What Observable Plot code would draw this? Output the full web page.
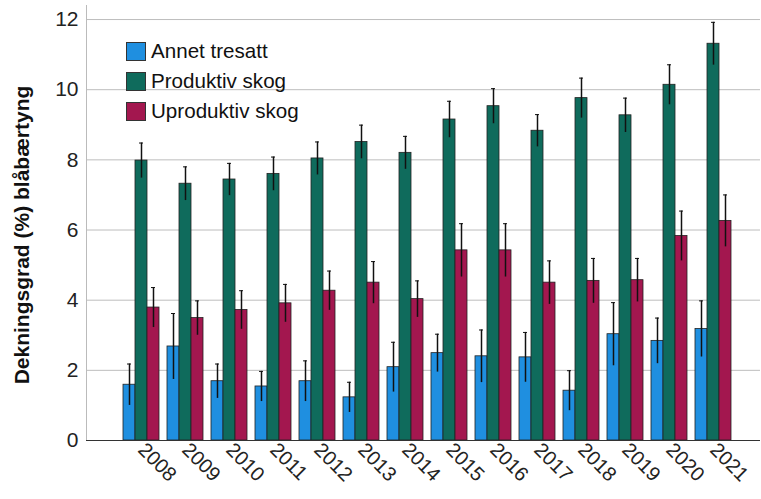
<!DOCTYPE html>
<html>
<head>
<meta charset="utf-8">
<script src="https://cdn.jsdelivr.net/npm/d3@7"></script>
<script src="https://cdn.jsdelivr.net/npm/@observablehq/plot@0.6"></script>
<style>
  html, body { margin: 0; padding: 0; background: #fff; }
  #wrap { position: relative; width: 761px; height: 499px; font-family: "Liberation Sans", Arial, sans-serif; }
  #legend { position: absolute; left: 126px; top: 36px; font-size: 20.6px; color: #111; }
  #legend .row { display: flex; align-items: center; height: 30px; }
  #legend .sw { width: 20px; height: 19px; border: 1px solid #333; box-sizing: border-box; margin-right: 5px; }
</style>
</head>
<body>
<div id="wrap"><div id="legend"></div></div>
<script>
const years = [2008, 2009, 2010, 2011, 2012, 2013, 2014, 2015, 2016, 2017, 2018, 2019, 2020, 2021];
const seriesNames = ["Annet tresatt", "Produktiv skog", "Uproduktiv skog"];
const seriesColors = ["#1f8fe0", "#0f6b5c", "#a3174f"];
const annet    = [1.59, 2.68, 1.69, 1.54, 1.69, 1.23, 2.09, 2.49, 2.40, 2.37, 1.42, 3.03, 2.84, 3.18];
const annetErr = [0.59, 0.94, 0.49, 0.43, 0.58, 0.43, 0.71, 0.54, 0.75, 0.71, 0.57, 0.90, 0.65, 0.80];
const prod     = [7.98, 7.32, 7.44, 7.60, 8.04, 8.51, 8.20, 9.15, 9.53, 8.83, 9.76, 9.27, 10.14, 11.31];
const prodErr  = [0.50, 0.48, 0.46, 0.48, 0.47, 0.48, 0.47, 0.52, 0.50, 0.46, 0.57, 0.49, 0.57, 0.61];
const uprod    = [3.79, 3.49, 3.72, 3.91, 4.27, 4.50, 4.03, 5.42, 5.42, 4.50, 4.55, 4.57, 5.83, 6.26];
const uprodErr = [0.57, 0.49, 0.55, 0.54, 0.56, 0.60, 0.52, 0.76, 0.76, 0.62, 0.64, 0.62, 0.71, 0.74];
const yTicks = [0, 2, 4, 6, 8, 10, 12];
const yLabel = "Dekningsgrad (%) blåbærtyng";

const valueSets = [annet, prod, uprod];
const errSets = [annetErr, prodErr, uprodErr];
const rows = [];
seriesNames.forEach((s, si) => years.forEach((yr, i) => rows.push({
  year: String(yr), series: s, si, value: valueSets[si][i], err: errSets[si][i]
})));

const bw = 36, sub = bw / 3;
const marks = [
  Plot.gridY(yTicks, {stroke: "#bdbdbd", strokeOpacity: 1}),
  Plot.frame({anchor: "left", stroke: "#bbbbbb"})
];
seriesNames.forEach((s, si) => {
  const d = rows.filter(r => r.si === si);
  marks.push(Plot.barY(d, {
    x: "year", y: "value", fill: seriesColors[si], stroke: "#222", strokeWidth: 0.8,
    insetLeft: si * sub, insetRight: (2 - si) * sub
  }));
  marks.push(Plot.ruleX(d, {
    x: "year", y1: d => d.value - d.err, y2: d => d.value + d.err,
    dx: (si - 1) * sub, stroke: "#111", strokeWidth: 1.5
  }));
  marks.push(Plot.tickY(d, {
    x: "year", y: d => d.value + d.err, stroke: "#111", strokeWidth: 1,
    insetLeft: si * sub + sub / 2 - 2, insetRight: (2 - si) * sub + sub / 2 - 2
  }));
});
marks.push(Plot.ruleY([0], {stroke: "#333", strokeWidth: 1}));
marks.push(Plot.axisY(yTicks, {tickSize: 0, tickPadding: 8, fontSize: 21, fill: "#222", label: null}));
marks.push(Plot.axisX({tickSize: 0, tickRotate: 45, fontSize: 20, fill: "#222", tickPadding: 6, label: null}));
marks.push(Plot.text([yLabel], {
  frameAnchor: "left", rotate: -90, dx: -64, dy: 12, textAnchor: "middle", lineAnchor: "middle",
  fontSize: 21, fontWeight: "bold", fill: "#111"
}));

const chart = Plot.plot({
  width: 761, height: 499,
  marginLeft: 86, marginRight: 1, marginTop: 5, marginBottom: 59,
  style: {fontFamily: "Liberation Sans, Arial, sans-serif", background: "#fff"},
  x: {domain: years.map(String), range: [121, 733], paddingInner: 0.187, paddingOuter: 0, axis: null},
  y: {domain: [0, 12.4], axis: null},
  marks
});
const wrap = document.getElementById("wrap");
wrap.insertBefore(chart, wrap.firstChild);

const legend = document.getElementById("legend");
seriesNames.forEach((s, si) => {
  const row = document.createElement("div");
  row.className = "row";
  const sw = document.createElement("div");
  sw.className = "sw";
  sw.style.background = seriesColors[si];
  const t = document.createElement("span");
  t.textContent = s;
  row.appendChild(sw); row.appendChild(t);
  legend.appendChild(row);
});
</script>
</body>
</html>
